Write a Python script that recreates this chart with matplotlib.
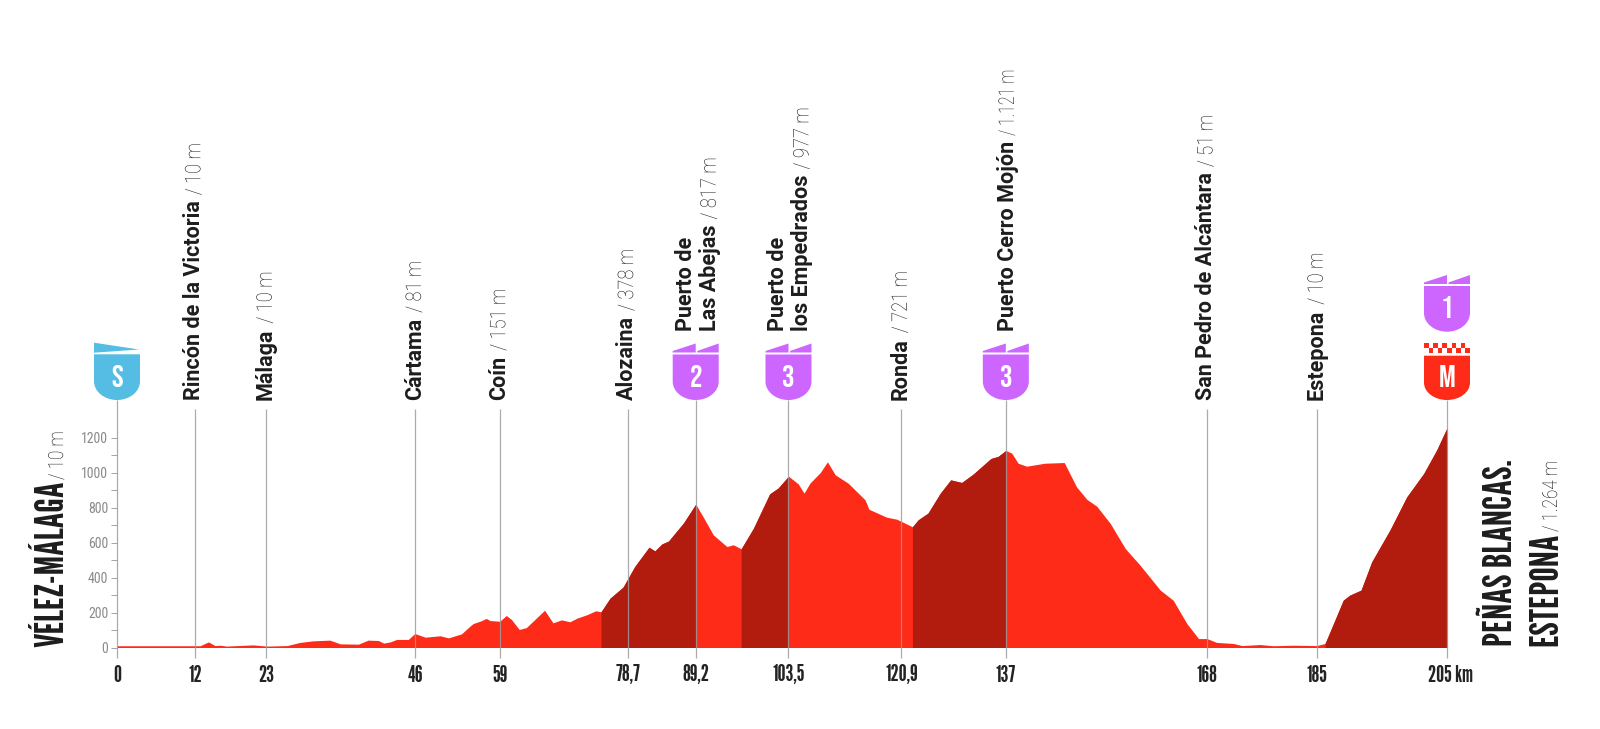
import numpy as np
import matplotlib
matplotlib.use('Agg')
import matplotlib.pyplot as plt
import matplotlib.patheffects as pe
from matplotlib.path import Path
from matplotlib.patches import PathPatch, Rectangle
from matplotlib.transforms import Affine2D

# stage profile
km = [0, 12.8, 14.1, 15.1, 15.9, 16.9, 21, 23.1, 26.2, 28.2, 30.2, 32.8, 34.4, 37.2, 38.7, 40.3,
      41.1, 42.1, 43.1, 44.9, 45.9, 47.5, 49.8, 51.1, 53.1, 54.4, 54.9, 55.95, 56.9, 57.5, 59, 60,
      60.8, 62, 63.1, 64.4, 65.9, 67.2, 68.5, 69.8, 70.9, 72.4, 73.8, 74.6, 76, 78, 79.8, 82,
      82.9, 84, 85, 87.3, 89.2, 90.4, 91.9, 94, 95, 96.2, 98.1, 100.6, 101.9, 103.5, 105, 105.9,
      106.8, 108.4, 109.5, 110.7, 112.7, 115.3, 115.9, 118.6, 120.2, 122.6, 123.5, 125, 126.9, 128.5, 130.2, 132,
      134.7, 135.8, 137, 137.9, 138.9, 140.2, 143, 146, 147.9, 149.5, 151, 153.1, 155.4, 157.7, 160.8, 162.8,
      164.9, 166.7, 168, 169.5, 172.1, 173.4, 176.2, 178.2, 181.3, 184.9, 186.2, 187.5, 189, 190, 191.75, 193.4,
      196.2, 198.8, 201.4, 203.4, 205]
alt = [10, 10, 32, 11, 13, 8, 15, 8, 11, 29, 38, 42, 21, 19, 42, 40,
       25, 32, 46, 46, 80, 59, 67, 55, 78, 122, 137, 150, 166, 154, 150, 183,
       160, 103, 114, 160, 213, 141, 158, 147, 168, 187, 210, 204, 282, 345, 463, 573,
       552, 592, 608, 711, 819, 743, 644, 577, 587, 564, 682, 878, 911, 979, 935, 882,
       939, 1000, 1061, 987, 939, 844, 790, 745, 733, 690, 730, 768, 882, 958, 943, 992,
       1080, 1092, 1126, 1111, 1053, 1036, 1053, 1057, 918, 846, 808, 709, 566, 470, 328, 270,
       137, 51, 51, 29, 23, 11, 17, 10, 13, 11, 23, 137, 270, 299, 328, 490,
       671, 861, 994, 1128, 1255]

climbs = [(74.6, 89.2), (96.2, 103.5), (122.6, 137), (186.2, 205)]

tick_km = [0, 12, 23, 46, 59, 78.7, 89.2, 103.5, 120.9, 137, 168, 185, 205]
tick_labels = ['0', '12', '23', '46', '59', '78,7', '89,2', '103,5', '120,9', '137', '168', '185', '205 km']
y_major = [0, 200, 400, 600, 800, 1000, 1200]
y_minor = [100, 300, 500, 700, 900, 1100]

# km, lines of the name, altitude text
places = [
    (12, ['Rincón de la Victoria'], '10 m'),
    (23, ['Málaga'], '10 m'),
    (46, ['Cártama'], '81 m'),
    (59, ['Coín'], '151 m'),
    (78.7, ['Alozaina'], '378 m'),
    (89.2, ['Puerto de', 'Las Abejas'], '817 m'),
    (103.5, ['Puerto de', 'los Empedrados'], '977 m'),
    (120.9, ['Ronda'], '721 m'),
    (137, ['Puerto Cerro Mojón'], '1.121 m'),
    (168, ['San Pedro de Alcántara'], '51 m'),
    (185, ['Estepona'], '10 m'),
]

RED = '#ff2b19'
DARK = '#b11c0f'
PURPLE = '#cc66ff'
BLUE = '#55bde3'
LINE = '#9c9c9c'
W, H = 1600, 729
X0, X1 = 117, 1447
Y0 = 647.5
PX_M = 0.175
NARROW = ['League Gothic', 'Bebas Neue', 'DejaVu Sans']
BADGE = ['Bebas Neue', 'DejaVu Sans']


class Squeeze(pe.AbstractPathEffect):
    # narrows the glyphs along the text
    def __init__(self, k):
        super().__init__()
        self.k = k

    def draw_path(self, renderer, gc, tpath, affine, rgbFace=None):
        renderer.draw_path(gc, tpath, Affine2D().scale(self.k, 1) + affine, rgbFace)


fig = plt.figure(figsize=(W / 100, H / 100), dpi=100, facecolor='white')
ax = fig.add_axes([X0 / W, (H - Y0) / H, (X1 - X0) / W, 227.5 / H])
ax.set_xlim(0, 205)
ax.set_ylim(0, 227.5 / PX_M)
px = fig.add_axes([0, 0, 1, 1], zorder=3)
px.set_xlim(0, W)
px.set_ylim(H, 0)
px.axis('off')
px.patch.set_alpha(0)

km_arr = np.array(km)
alt_arr = np.array(alt)
ax.fill_between(km_arr, 0, alt_arr, color=RED, lw=0)
for a, b in climbs:
    ax.fill_between(km_arr, 0, alt_arr, where=(km_arr >= a) & (km_arr <= b), color=DARK, lw=0)

for s in ax.spines.values():
    s.set_visible(False)
ax.patch.set_alpha(0)
ax.set_xticks([])
ax.set_yticks(y_major)
ax.set_yticks(y_minor, minor=True)
ax.set_yticklabels([str(v) for v in y_major], family=['Roboto Condensed', 'Roboto'], fontsize=10, color='#8a8a8a')
ax.tick_params(axis='y', which='both', length=4.3, width=0.7, color='#a5a5a5', pad=2)


def to_px(k):
    return X0 + k * (X1 - X0) / 205


def shield(xc, top, bottom, color):
    hw = 23
    k = 0.5523
    ry = bottom - (top + 27)
    verts = [(xc - hw, top), (xc + hw, top), (xc + hw, top + 27),
             (xc + hw, top + 27 + k * ry), (xc + k * hw, bottom), (xc, bottom),
             (xc - k * hw, bottom), (xc - hw, top + 27 + k * ry), (xc - hw, top + 27), (xc - hw, top)]
    codes = [Path.MOVETO, Path.LINETO, Path.LINETO, Path.CURVE4, Path.CURVE4, Path.CURVE4,
             Path.CURVE4, Path.CURVE4, Path.CURVE4, Path.CLOSEPOLY]
    px.add_patch(PathPatch(Path(verts, codes), fc=color, ec='none'))


def teeth(xc, top, color):
    for x0, x1 in [(xc - 23, xc), (xc + 1.5, xc + 23)]:
        px.fill([x0, x0, x1, x1], [top + 9, top + 7.5, top, top + 9], color=color, lw=0)


def number(xc, y, s):
    px.text(xc, y, s, color='white', family=BADGE, fontsize=22.5, ha='center', va='center')


def climb_badge(k, s, top=343.5, bottom=400):
    xc = to_px(k)
    teeth(xc, top, PURPLE)
    shield(xc, top + 11, bottom, PURPLE)
    number(xc, top + 32, s)


# vertical marks
for k, label in zip(tick_km, tick_labels):
    top = 400 if k in (0, 89.2, 103.5, 137, 205) else 409
    px.plot([to_px(k)] * 2, [top, 658], color=LINE, lw=0.9, alpha=0.85, solid_capstyle='butt')
    if label.endswith('km'):
        px.text(to_px(k) - 19, 675, label, ha='left', va='center', family=NARROW, fontsize=16.3, color='#232323')
    else:
        px.text(to_px(k), 675, label, ha='center', va='center', family=NARROW, fontsize=16.3, color='#232323')

# start badge
xs = to_px(0)
px.fill([xs - 23, xs + 22, xs - 23], [342.7, 349.5, 352.7], color=BLUE, lw=0)
shield(xs, 354.3, 400, BLUE)
number(xs, 375.5, 'S')

climb_badge(89.2, '2')
climb_badge(103.5, '3')
climb_badge(137, '3')
climb_badge(205, '1', top=275, bottom=331.7)

# finish badge
xf = to_px(205)
for row, y in enumerate([343.3, 348.3]):
    for i in range(10):
        if (i + row) % 2 == 0:
            px.add_patch(Rectangle((xf - 23 + i * 4.6, y), 4.6, 5, fc=RED, ec='none'))
shield(xf, 355.7, 400, RED)
number(xf, 375.5, 'M')

rend = fig.canvas.get_renderer()


def two_part(x, y, name, tail, size, squeeze=0.85):
    # bold name then the thin altitude after it, going up the page
    t = px.text(x, y, name, rotation=90, rotation_mode='anchor', ha='left', va='baseline',
                fontname='Roboto', fontweight='bold', fontsize=size, color='#1d1d1d')
    top = t.get_window_extent(rend).y1
    px.text(x, H - top - 5, '/ ' + tail, rotation=90, rotation_mode='anchor', ha='left', va='baseline',
            fontname='Roboto', fontweight='light', fontsize=size, color='#111111', path_effects=[Squeeze(squeeze)])


for k, lines, tail in places:
    x = to_px(k)
    if len(lines) == 2:
        px.text(x - 4, 331, lines[0], rotation=90, rotation_mode='anchor', ha='left', va='baseline',
                fontname='Roboto', fontweight='bold', fontsize=15.5, color='#1d1d1d')
        two_part(x + 20, 331, lines[1], tail, 15.5)
    elif k == 137:
        two_part(x + 8, 331, lines[0], tail, 15.5, squeeze=0.74)
    else:
        two_part(x + 5.5, 400, lines[0], tail, 15.5)


def big(x, y, s, size=29, color='#1d1d1d'):
    px.text(x, y, s, rotation=90, rotation_mode='anchor', ha='left', va='baseline', family=NARROW,
            fontsize=size, color=color)


def thin(x, y, s):
    px.text(x, y, s, rotation=90, rotation_mode='anchor', ha='left', va='baseline', fontname='Roboto',
            fontweight='light', fontsize=15, color='#111111', path_effects=[Squeeze(0.82)])


big(63, 647, 'VÉLEZ-MÁLAGA')
thin(63, 480, '/ 10 m')
big(1512, 646, 'PEÑAS BLANCAS.')
big(1557, 646, 'ESTEPONA')
thin(1557, 532, '/ 1.264 m')

fig.savefig('out.png', dpi=100)
